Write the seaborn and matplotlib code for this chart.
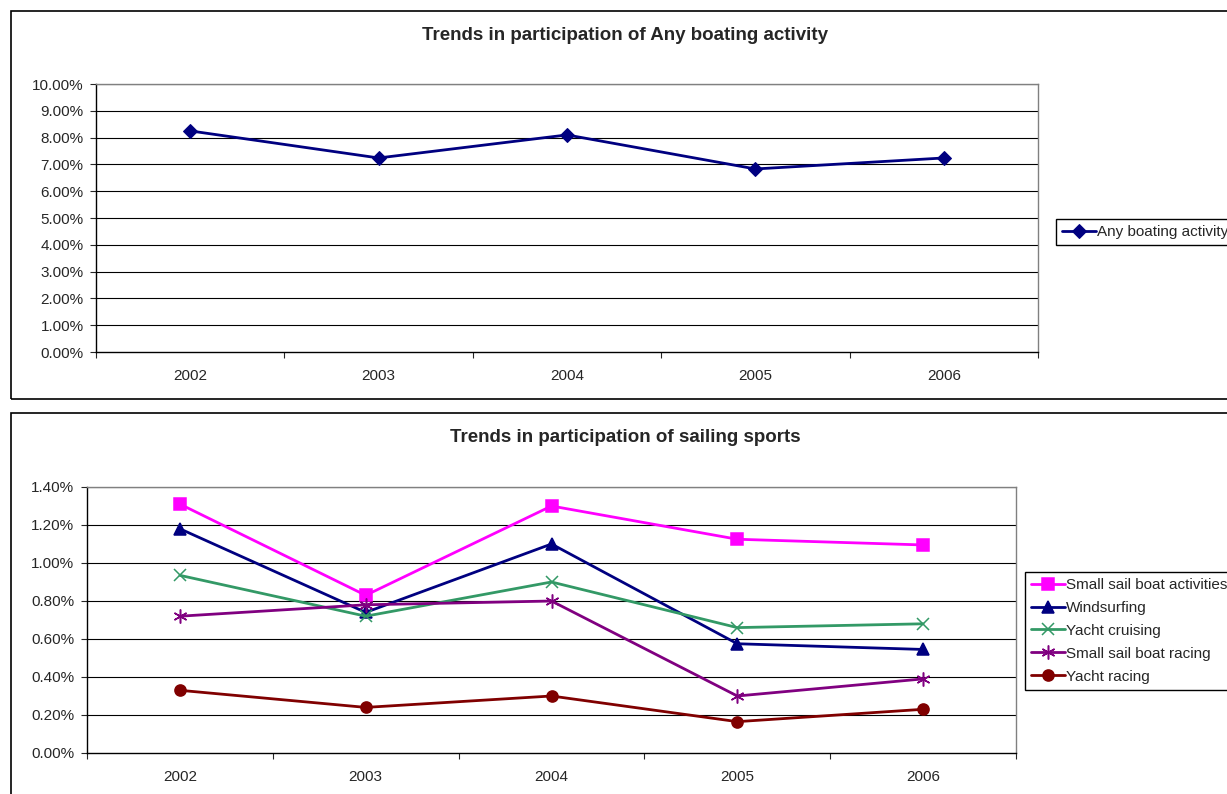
import matplotlib
matplotlib.use("Agg")
import matplotlib.pyplot as plt
import seaborn as sns
from matplotlib.patches import Rectangle
from matplotlib.ticker import PercentFormatter, FixedLocator

# data
years = [2002, 2003, 2004, 2005, 2006]
any_boating = [8.25, 7.24, 8.10, 6.83, 7.24]

small_sail_activities = [1.31, 0.83, 1.30, 1.125, 1.095]
windsurfing = [1.18, 0.74, 1.10, 0.575, 0.545]
yacht_cruising = [0.935, 0.72, 0.90, 0.66, 0.68]
small_sail_racing = [0.72, 0.78, 0.80, 0.30, 0.39]
yacht_racing = [0.33, 0.24, 0.30, 0.165, 0.23]

series_names = ["Small sail boat activities", "Windsurfing", "Yacht cruising",
                "Small sail boat racing", "Yacht racing"]
series_values = [small_sail_activities, windsurfing, yacht_cruising,
                 small_sail_racing, yacht_racing]
series_colors = ["#FF00FF", "#000080", "#339966", "#800080", "#800000"]
series_markers = ["s", "^", "x", (6, 2, 0), "o"]
marker_sizes = [8, 8, 8, 10, 8]

sns.set_style("white")
plt.rcParams["font.family"] = ["Liberation Sans", "DejaVu Sans"]

fig = plt.figure(figsize=(12.27, 7.94), dpi=100)

# panel frames
fig.patches.append(Rectangle((11 / 1227, (794 - 399) / 794), 1.2, 388 / 794,
                             transform=fig.transFigure, fill=False,
                             edgecolor="black", linewidth=1.2))
fig.patches.append(Rectangle((11 / 1227, -0.1), 1.2, (794 - 413) / 794 + 0.1,
                             transform=fig.transFigure, fill=False,
                             edgecolor="black", linewidth=1.2))

ax1 = fig.add_axes([96 / 1227, (794 - 352) / 794, (1038 - 96) / 1227, 268 / 794])
ax2 = fig.add_axes([87 / 1227, (794 - 753) / 794, (1016 - 87) / 1227, 266 / 794])


def style_axis(ax, ymax, step):
    ax.set_xlim(2001.5, 2006.5)
    ax.set_ylim(0, ymax)
    ax.set_xticks(years)
    ax.xaxis.set_minor_locator(FixedLocator([2001.5, 2002.5, 2003.5, 2004.5, 2005.5, 2006.5]))
    ax.tick_params(axis="x", which="major", length=0, pad=12, labelsize=11)
    ax.tick_params(axis="x", which="minor", length=4, width=0.8, direction="out", bottom=True)
    ticks = [i * step for i in range(int(round(ymax / step)) + 1)]
    ax.set_yticks(ticks)
    ax.yaxis.set_major_formatter(PercentFormatter(xmax=100, decimals=2))
    ax.tick_params(axis="y", length=4, width=0.8, direction="out", left=True,
                   labelsize=11, pad=5)
    for t in ticks[1:]:
        ax.axhline(t, color="black", linewidth=0.8, zorder=0)
    for s in ["top", "right"]:
        ax.spines[s].set_color("#808080")
        ax.spines[s].set_linewidth(1.0)
    for s in ["left", "bottom"]:
        ax.spines[s].set_color("black")
        ax.spines[s].set_linewidth(1.0)
    ax.set_xlabel("")
    ax.set_ylabel("")


sns.lineplot(x=years, y=any_boating, color="#000080", marker="D", markersize=7,
             markeredgecolor="#000080", linewidth=2, label="Any boating activity", ax=ax1)
style_axis(ax1, 10, 1)

for name, vals, col, mk, ms in zip(series_names, series_values, series_colors,
                                   series_markers, marker_sizes):
    sns.lineplot(x=years, y=vals, color=col, marker=mk, markersize=ms,
                 markeredgecolor=col, markerfacecolor=col, markeredgewidth=1.1,
                 linewidth=2, label=name, ax=ax2)
style_axis(ax2, 1.4, 0.2)

legend_kw = dict(loc="upper left", bbox_transform=fig.transFigure, frameon=True,
                 fontsize=11, fancybox=False, edgecolor="black", borderpad=0.4,
                 handlelength=2.2, handletextpad=0.1, borderaxespad=0, framealpha=1)
leg1 = ax1.legend(bbox_to_anchor=(1056 / 1227, (794 - 219) / 794), **legend_kw)
leg2 = ax2.legend(bbox_to_anchor=(1025 / 1227, (794 - 572) / 794), labelspacing=0.58,
                  **legend_kw)
for leg in (leg1, leg2):
    leg.get_frame().set_linewidth(1.0)

fig.text(625 / 1227, (794 - 35) / 794, "Trends in participation of Any boating activity",
         ha="center", va="center", fontsize=13.5, fontweight="bold")
fig.text(625 / 1227, (794 - 437) / 794, "Trends in participation of sailing sports",
         ha="center", va="center", fontsize=13.5, fontweight="bold")

fig.savefig("out.png", dpi=100)
